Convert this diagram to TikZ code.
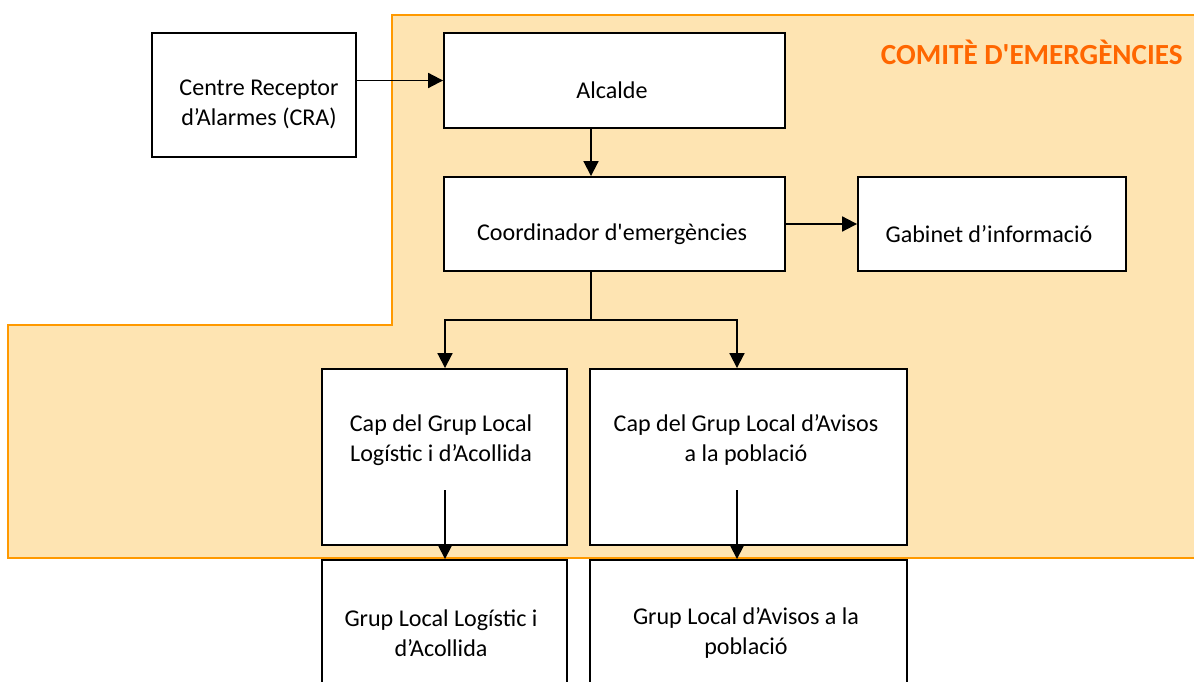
\documentclass[tikz,border=0pt]{standalone}
\usepackage{fontspec}
\setmainfont{Carlito}
\usetikzlibrary{arrows.meta,positioning}

\definecolor{comitefill}{RGB}{254,228,178}
\definecolor{comiteline}{RGB}{255,153,0}
\definecolor{comitetext}{RGB}{255,102,0}

\tikzset{
  box/.style={draw=black, line width=1.1pt, fill=white, inner sep=0pt},
  lbl/.style={align=center, inner sep=0pt, font=\fontsize{13.7}{17}\selectfont},
  conn/.style={draw=black, line width=1.1pt, -{Triangle[length=8.5pt,width=8.5pt]}},
}

\begin{document}
\begin{tikzpicture}[x=0.02cm,y=-0.02cm]
\useasboundingbox (0,0) rectangle (1194,682);
\clip (0,0) rectangle (1194,682);
\fill[white] (0,0) rectangle (1194,682);

% comite area
\draw[draw=comiteline, fill=comitefill, line width=1.1pt]
  (392,15) -- (1210,15) -- (1210,558) -- (8,558) -- (8,325) -- (392,325) -- cycle;
\node[anchor=base east, inner sep=0pt, text=comitetext, font=\bfseries\fontsize{16.6}{20}\selectfont] (title) at (1183,65) {COMITÈ D\textquotesingle EMERGÈNCIES};

% boxes
\node[box, minimum width=4.08cm, minimum height=2.48cm] (cra) at (254,95) {};
\node[box, minimum width=6.82cm, minimum height=1.9cm] (alc) at (614.5,80.5) {};
\node[box, minimum width=6.82cm, minimum height=1.88cm] (coord) at (614.5,224) {};
\node[box, minimum width=5.36cm, minimum height=1.88cm] (gab) at (992,224) {};
\node[box, minimum width=4.9cm, minimum height=3.52cm] (caplog) at (444.5,457) {};
\node[box, minimum width=6.34cm, minimum height=3.52cm] (capav) at (748.5,457) {};
\node[box, minimum width=4.9cm, minimum height=2.88cm] (grlog) at (444.5,632) {};
\node[box, minimum width=6.34cm, minimum height=2.88cm] (grav) at (748.5,632) {};

% texts
\node[lbl] (cratxt) at (259,104) {Centre Receptor\\d’Alarmes (CRA)};
\node[lbl] (alctxt) at (612,90) {Alcalde};
\node[lbl] (coordtxt) at (612,234) {Coordinador d\textquotesingle emergències};
\node[lbl] (gabtxt) at (989,234) {Gabinet d’informació};
\node[lbl] (caplogtxt) at (441,440) {Cap del Grup Local\\Logístic i d’Acollida};
\node[lbl] (capavtxt) at (746,440) {Cap del Grup Local d’Avisos\\a la població};
\node[lbl] (grlogtxt) at (441,633) {Grup Local Logístic i\\d’Acollida};
\node[lbl] (gravtxt) at (746,633) {Grup Local d’Avisos a la\\població};

% connectors
\coordinate (axis) at (591,0);
\coordinate (fork) at (591,320);
\coordinate (logx) at (445,0);
\coordinate (avx) at (737,0);
\coordinate (logsrc) at (445,490);
\coordinate (avsrc) at (737,490);

\draw[conn] (cra.east |- alc.west) -- (alc.west);
\draw[conn] (alc.south -| axis) -- (coord.north -| axis);
\draw[conn] (coord.east) -- (gab.west);
\draw[draw=black, line width=1.1pt] (coord.south -| axis) -- (fork);
\draw[conn] (fork) -| (caplog.north -| logx);
\draw[conn] (fork) -| (capav.north -| avx);
\draw[conn] (logsrc) -- (grlog.north -| logsrc);
\draw[conn] (avsrc) -- (grav.north -| avsrc);
\end{tikzpicture}
\end{document}
